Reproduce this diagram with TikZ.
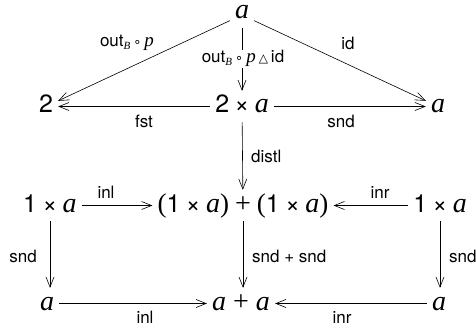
\documentclass[tikz,border=0pt]{standalone}
\usepackage{fontspec}
\usetikzlibrary{arrows.meta}
\newfontfamily\hvf{TeX Gyre Heros}
\newfontfamily\tmf{Liberation Serif}
\newfontfamily\djf{DejaVu Sans}
\newcommand\va{{\tmf\itshape\fontsize{28}{30}\selectfont a}}
\newcommand\tms{\hspace{5.5pt}{\hvf ×}\hspace{5.5pt}}
\newcommand\lpar{{\tmf\fontsize{27}{30}\selectfont (}}
\newcommand\rpar{{\tmf\fontsize{27}{30}\selectfont )}}
\newcommand\pls{{\tmf\fontsize{28}{30}\selectfont +}}
\newcommand\outB{out\raisebox{-3pt}{\tmf\itshape\fontsize{11}{12}\selectfont B}}
\newcommand\lp{{\tmf\itshape\fontsize{19}{20}\selectfont p}}
\newcommand\cmp{\hspace{3pt}{\djf\fontsize{13}{13}\selectfont ∘}\hspace{3pt}}
\newcommand\tri{\hspace{3pt}{\djf\fontsize{12}{12}\selectfont △}\hspace{3pt}}
\tikzset{
  obj/.style={font=\fontsize{25}{30}\selectfont\hvf, anchor=base, text height=18pt, text depth=5pt, inner xsep=5pt, inner ysep=4pt},
  lbl/.style={font=\fontsize{17}{20}\selectfont\hvf, inner sep=1pt, anchor=base},
  arr/.style={-{Straight Barb[length=10pt,width=8pt]}, line width=0.6pt}
}
\begin{document}
\begin{tikzpicture}[x=1pt,y=-1pt]
\useasboundingbox (0,0) rectangle (476,331);
\node[obj, text height=13pt] (top) at (242,19) {\va};
\node[obj] (two) at (46,113) {2};
\node[obj] (twoa) at (242,113) {2\tms\va};
\node[obj] (aR) at (438,113) {\va};
\node[obj] (oneaL) at (50,212) {1\tms\va};
\node[obj] (sum) at (243,212) {\lpar 1\tms\va\rpar\hspace{6pt}\pls\hspace{6pt}\lpar 1\tms\va\rpar};
\node[obj] (oneaR) at (440,212) {1\tms\va};
\node[obj] (aBL) at (47,310) {\va};
\node[obj] (apa) at (241,310) {\va\hspace{7pt}\pls\hspace{7pt}\va};
\node[obj] (aBR) at (439,310) {\va};

\draw[arr] (top) -- (two);
\draw[arr] (top) -- (aR);
\draw[arr] (top) -- (twoa);
\draw[arr] (twoa) -- (two);
\draw[arr] (twoa) -- (aR);
\draw[arr] (twoa) -- (sum);
\draw[arr] (oneaL) -- (sum);
\draw[arr] (oneaR) -- (sum);
\draw[arr] (oneaL.south) -- (oneaL.south |- aBL.north);
\draw[arr] (sum.south) -- (sum.south |- apa.north);
\draw[arr] (oneaR.south) -- (oneaR.south |- aBR.north);
\draw[arr] (aBL) -- (apa);
\draw[arr] (aBR) -- (apa);

\node[lbl] (l1) at (127,47) {\outB\cmp\lp};
\node[lbl] (l3) at (348,50) {id};
\node[lbl, fill=white] (l2) at (243,63) {\outB\cmp\lp\tri id};
\node[lbl] (l4) at (144,128) {fst};
\node[lbl] (l5) at (341,128) {snd};
\node[lbl, anchor=base west] (l6) at (250,163) {distl};
\node[lbl] (l7) at (106,198) {inl};
\node[lbl] (l8) at (380,198) {inr};
\node[lbl, anchor=base east] (l9) at (38,262) {snd};
\node[lbl, anchor=base west] (l10) at (251,262) {snd + snd};
\node[lbl, anchor=base west] (l11) at (448,262) {snd};
\node[lbl] (l12) at (145,323) {inl};
\node[lbl] (l13) at (342,323) {inr};
\end{tikzpicture}
\end{document}
